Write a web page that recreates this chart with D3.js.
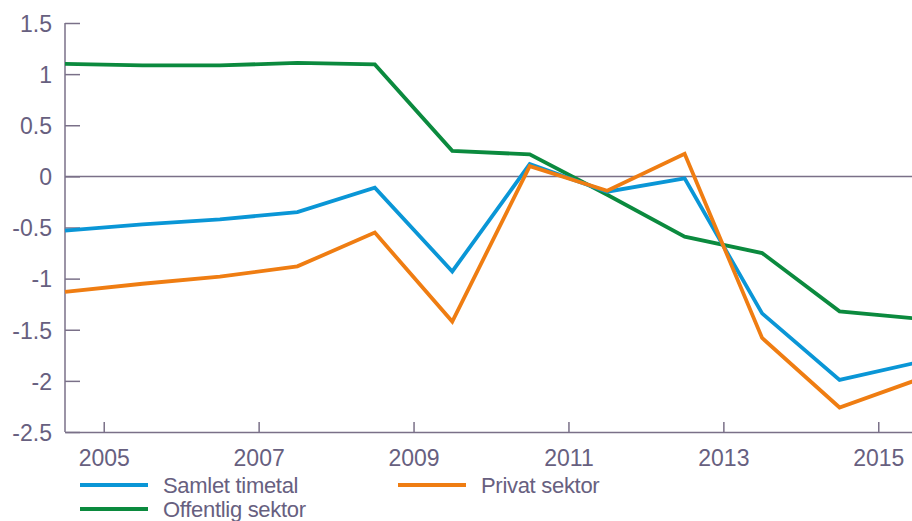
<!DOCTYPE html>
<html>
<head>
<meta charset="utf-8">
<script src="https://cdnjs.cloudflare.com/ajax/libs/d3/7.8.5/d3.min.js"></script>
<style>
  body { margin: 0; background: #fff; }
  svg text { font-family: "Liberation Sans", Arial, sans-serif; fill: #676080; }
</style>
</head>
<body>
<div id="vis"></div>
<script>
// years (mid-year observations)
var years = [2004.5, 2005.5, 2006.5, 2007.5, 2008.5, 2009.5, 2010.5, 2011.5, 2012.5, 2013.5, 2014.5, 2015.5];

var samlet   = [-0.53, -0.47, -0.42, -0.35, -0.11, -0.93, 0.12, -0.15, -0.02, -1.34, -1.99, -1.82];
var privat   = [-1.13, -1.05, -0.98, -0.88, -0.55, -1.42, 0.10, -0.14, 0.22, -1.58, -2.26, -1.99];
var offentlig = [1.10, 1.085, 1.085, 1.11, 1.095, 0.25, 0.215, -0.18, -0.59, -0.75, -1.32, -1.39];

var yTicks = [1.5, 1, 0.5, 0, -0.5, -1, -1.5, -2, -2.5];
var xTicks = [2005, 2007, 2009, 2011, 2013, 2015];

var series = [
  { name: 'Samlet timetal', values: samlet, color: '#0a96d6' },
  { name: 'Privat sektor', values: privat, color: '#ef7d12' },
  { name: 'Offentlig sektor', values: offentlig, color: '#0b8a3e' }
];

var width = 912,
    height = 521;
var margin = { top: 23, left: 65, bottom: 89, right: -5 };

var svg = d3.select('#vis').append('svg')
  .attr('width', width)
  .attr('height', height);

var x = d3.scaleLinear()
  .domain([2004.5, 2015.5])
  .range([margin.left, width - margin.right]);

var y = d3.scaleLinear()
  .domain([-2.5, 1.5])
  .range([height - margin.bottom, margin.top]);

var axisColor = '#7a7088';

// y axis, ticks pointing inward
var yAxis = d3.axisRight(y).tickValues(yTicks).tickSize(15)
  .tickFormat(function(d) { return String(d); })
  .tickSizeOuter(0);
var gy = svg.append('g').attr('transform', 'translate(' + margin.left + ',0)').call(yAxis);
gy.select('.domain').attr('stroke', axisColor).attr('stroke-width', 1.5);
gy.selectAll('.tick line').attr('stroke', axisColor).attr('stroke-width', 1.5);
gy.selectAll('.tick text')
  .attr('x', -13)
  .attr('dy', '0.36em')
  .attr('text-anchor', 'end')
  .style('font-size', '23px');
gy.select('.domain').attr('d', 'M0,' + y(1.5) + 'V' + y(-2.5));

// x axis, ticks pointing upward
var xAxis = d3.axisTop(x).tickValues(xTicks).tickSize(10).tickFormat(d3.format('d')).tickSizeOuter(0);
var gx = svg.append('g').attr('transform', 'translate(0,' + y(-2.5) + ')').call(xAxis);
gx.select('.domain').attr('stroke', axisColor).attr('stroke-width', 1.5);
gx.selectAll('.tick line').attr('stroke', axisColor).attr('stroke-width', 1.5);
gx.selectAll('.tick text')
  .attr('y', 34)
  .attr('dy', 0)
  .style('font-size', '23px');

// zero line
svg.append('line')
  .attr('x1', x(2004.5)).attr('x2', x(2015.5))
  .attr('y1', y(0)).attr('y2', y(0))
  .attr('stroke', axisColor)
  .attr('stroke-width', 1.5);

var line = d3.line()
  .x(function(d, i) { return x(years[i]); })
  .y(function(d) { return y(d); });

// draw green first so orange/blue sit on top like the original
[series[2], series[0], series[1]].forEach(function(s) {
  svg.append('path')
    .datum(s.values)
    .attr('fill', 'none')
    .attr('stroke', s.color)
    .attr('stroke-width', 3.8)
    .attr('stroke-linejoin', 'miter')
    .attr('d', line);
});

// legend
var legendPos = [
  { lx: 80, ly: 485 },
  { lx: 398, ly: 485 },
  { lx: 80, ly: 509 }
];
series.forEach(function(s, i) {
  var p = legendPos[i];
  svg.append('line')
    .attr('x1', p.lx).attr('x2', p.lx + 68)
    .attr('y1', p.ly).attr('y2', p.ly)
    .attr('stroke', s.color)
    .attr('stroke-width', 4);
  svg.append('text')
    .attr('x', p.lx + 83)
    .attr('y', p.ly + 7.5)
    .style('font-size', '22px')
    .style('letter-spacing', '-0.3px')
    .text(s.name);
});
</script>
</body>
</html>
